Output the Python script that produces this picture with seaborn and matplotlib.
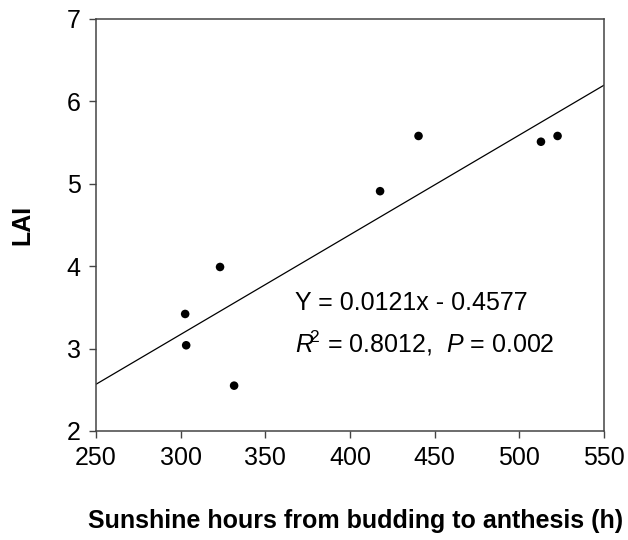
import numpy as np
import pandas as pd
import matplotlib.pyplot as plt
import seaborn as sns

# sunshine hours vs LAI
sunshine = [302.6, 303.2, 323.2, 331.5, 417.7, 440.4, 512.7, 522.5]
lai = [3.42, 3.04, 3.99, 2.55, 4.91, 5.58, 5.51, 5.58]

slope = 0.0121
intercept = -0.4577
fit_x = [250, 550]

x_ticks = [250, 300, 350, 400, 450, 500, 550]
y_ticks = [2, 3, 4, 5, 6, 7]


def make_plot():
    sns.set_style("white")
    plt.rcParams['font.family'] = ['Liberation Sans', 'DejaVu Sans']
    plt.rcParams['text.color'] = 'black'
    plt.rcParams['axes.labelcolor'] = 'black'
    plt.rcParams['mathtext.fontset'] = 'custom'
    plt.rcParams['mathtext.rm'] = 'Liberation Sans'
    plt.rcParams['mathtext.it'] = 'Liberation Sans:italic'

    df = pd.DataFrame({'sunshine': sunshine, 'lai': lai})
    fit = pd.DataFrame({'x': fit_x, 'y': [slope * v + intercept for v in fit_x]})

    fig = plt.figure(figsize=(6.28, 5.4), dpi=100)
    ax = fig.add_axes([0.153, 0.2019, 0.809, 0.763])

    sns.lineplot(data=fit, x='x', y='y', color='black', linewidth=0.9, ax=ax)
    sns.scatterplot(data=df, x='sunshine', y='lai', color='black', s=38,
                    edgecolor='none', ax=ax, zorder=3)

    ax.set_xlim(250, 550)
    ax.set_ylim(2, 7)
    ax.set_xticks(x_ticks)
    ax.set_yticks(y_ticks)
    ax.tick_params(axis='both', direction='out', length=5, width=1,
                   color='#444444', labelcolor='black', labelsize=18, pad=6)
    ax.tick_params(top=False, right=False, bottom=True, left=True)

    for sp in ax.spines.values():
        sp.set_color('#444444')
        sp.set_linewidth(1.1)
        sp.set_visible(True)

    ax.set_xlabel('Sunshine hours from budding to anthesis (h)',
                  fontsize=18, fontweight='bold')
    ax.xaxis.set_label_coords(0.51, -0.19)
    ax.set_ylabel('LAI', fontsize=18, fontweight='bold')
    ax.yaxis.set_label_coords(-0.122, 0.5)

    ax.text(367.5, 3.55, 'Y = 0.0121x - 0.4577', fontsize=18, va='center')
    ax.text(367.5, 3.07, r'$\mathit{R}^{\!\!2}$ = 0.8012,  $\mathit{P}$ = 0.002',
            fontsize=18, va='center')

    fig.savefig('out.png', dpi=100)


if __name__ == "__main__":
    make_plot()
